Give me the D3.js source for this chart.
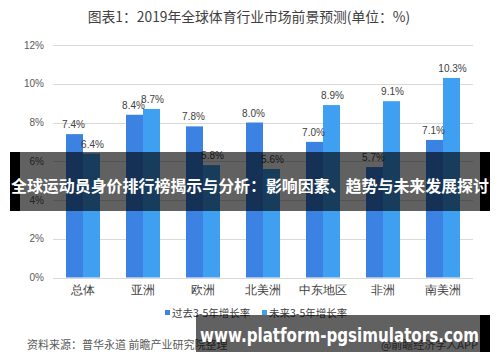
<!DOCTYPE html>
<html><head><meta charset="utf-8">
<script src="https://cdn.jsdelivr.net/npm/d3@7"></script>
<style>
html,body{margin:0;padding:0;background:#fff;}
svg{display:block;font-family:"Noto Sans CJK SC","Noto Sans",sans-serif;}
</style></head>
<body>
<svg id="chart" width="500" height="362"></svg>
<script>
const categories = ["总体","亚洲","欧洲","北美洲","中东地区","非洲","南美洲"];
const pastGrowth = [7.4, 8.4, 7.8, 8.0, 7.0, 5.7, 7.1];
const futureGrowth = [6.4, 8.7, 5.8, 5.6, 8.9, 9.1, 10.3];
const seriesNames = ["过去3-5年增长率","未来3-5年增长率"];
const seriesColors = ["#3b82e2","#3fa0f2"];
const yTicks = [0,2,4,6,8,10,12];
const titleText = "图表1：2019年全球体育行业市场前景预测(单位：%)";
const sourceText = "资料来源：普华永道 前瞻产业研究院整理";
const creditText = "@前瞻经济学人APP";
const bannerText = "全球运动员身价排行榜揭示与分析：影响因素、趋势与未来发展探讨";
const urlText = "www.platform-pgsimulators.com";

const svg = d3.select("#chart");
const m = {left:53, right:27, top:45, bottom:84.5};
const W = 500, H = 362;
const x = d3.scaleBand().domain(categories).range([m.left, W - m.right]);
const y = d3.scaleLinear().domain([0,12]).range([H - m.bottom, m.top]);
const barW = 17;
const xs = d3.scaleBand().domain([0,1]).range([-barW, barW]);

// title
svg.append("text").attr("x",249).attr("y",22).attr("text-anchor","middle")
  .attr("font-size",13.8).attr("fill","#404040").text(titleText);

// grid
const grid = svg.append("g");
grid.selectAll("line").data(yTicks).join("line")
  .attr("x1",m.left).attr("x2",W-m.right)
  .attr("y1",d=>Math.round(y(d))+0.5).attr("y2",d=>Math.round(y(d))+0.5)
  .attr("stroke","#d9d9d9").attr("stroke-width",1);

// y axis
const yAxis = d3.axisLeft(y).tickValues(yTicks).tickFormat(d=>d+"%").tickSize(0).tickPadding(9);
const ga = svg.append("g").attr("transform",`translate(${m.left},0)`).call(yAxis);
ga.select(".domain").remove();
ga.selectAll("text").attr("font-size",10).attr("fill","#595959")
  .attr("font-family","'Liberation Sans',Arial,sans-serif");

// x axis
const xAxis = d3.axisBottom(x).tickSize(0).tickPadding(8);
const gx = svg.append("g").attr("transform",`translate(0,${y(0)})`).call(xAxis);
gx.select(".domain").remove();
gx.selectAll("text").attr("font-size",12).attr("fill","#404040");

// bars
const data = categories.map((c,i)=>({c, v:[pastGrowth[i], futureGrowth[i]]}));
const groups = svg.append("g").selectAll("g").data(data).join("g")
  .attr("transform",d=>`translate(${x(d.c)+x.bandwidth()/2},0)`);
groups.selectAll("rect").data(d=>d.v.map((v,k)=>({v,k}))).join("rect")
  .attr("x",d=>xs(d.k)).attr("width",barW)
  .attr("y",d=>y(d.v)).attr("height",d=>y(0)-y(d.v))
  .attr("fill",d=>seriesColors[d.k]);
groups.selectAll("text.lbl").data(d=>d.v.map((v,k)=>({v,k}))).join("text")
  .attr("class","lbl")
  .attr("x",d=>xs(d.k)+barW/2+ (d.k===1?1:-1)).attr("y",d=>y(d.v)-6)
  .attr("text-anchor","middle").attr("font-size",10).attr("fill","#404040")
  .attr("font-family","'Liberation Sans',Arial,sans-serif")
  .text(d=>d.v.toFixed(1)+"%");

// legend
const legX = [165, 262];
const leg = svg.append("g").selectAll("g").data(seriesNames).join("g")
  .attr("transform",(d,i)=>`translate(${legX[i]},313)`);
leg.append("rect").attr("x",0).attr("y",-3).attr("width",5).attr("height",5)
  .attr("fill",(d,i)=>seriesColors[i]);
leg.append("text").attr("x",7).attr("y",4).attr("font-size",10.5).attr("fill","#404040")
  .text(d=>d);

// source
svg.append("text").attr("x",27).attr("y",349).attr("font-size",11).attr("fill","#595959").text(sourceText);
svg.append("text").attr("x",478).attr("y",349).attr("text-anchor","end").attr("font-size",11).attr("fill","#595959").text(creditText);

// overlay banner (middle)
svg.append("rect").attr("x",20).attr("y",152).attr("width",460).attr("height",59).attr("fill","rgba(0,0,0,0.62)");
svg.append("rect").attr("x",10).attr("y",152).attr("width",10).attr("height",59).attr("fill","#000");
svg.append("rect").attr("x",480).attr("y",152).attr("width",10).attr("height",59).attr("fill","#000");
svg.append("text").attr("x",250).attr("y",192).attr("text-anchor","middle")
  .attr("font-size",16).attr("font-weight","bold").attr("fill","#fff")
  .attr("textLength",478).attr("lengthAdjust","spacingAndGlyphs").text(bannerText);

// bottom banner
svg.append("rect").attr("x",196).attr("y",315).attr("width",284).attr("height",37).attr("fill","rgba(0,0,0,0.62)");
svg.append("rect").attr("x",480).attr("y",315).attr("width",10).attr("height",37).attr("fill","#000");
svg.append("text").attr("x",200).attr("y",342)
  .attr("font-size",19).attr("font-weight","bold").attr("fill","#fff")
  .attr("font-family","'DejaVu Sans',sans-serif")
  .attr("textLength",279).attr("lengthAdjust","spacingAndGlyphs").text(urlText);
</script>
</body></html>
